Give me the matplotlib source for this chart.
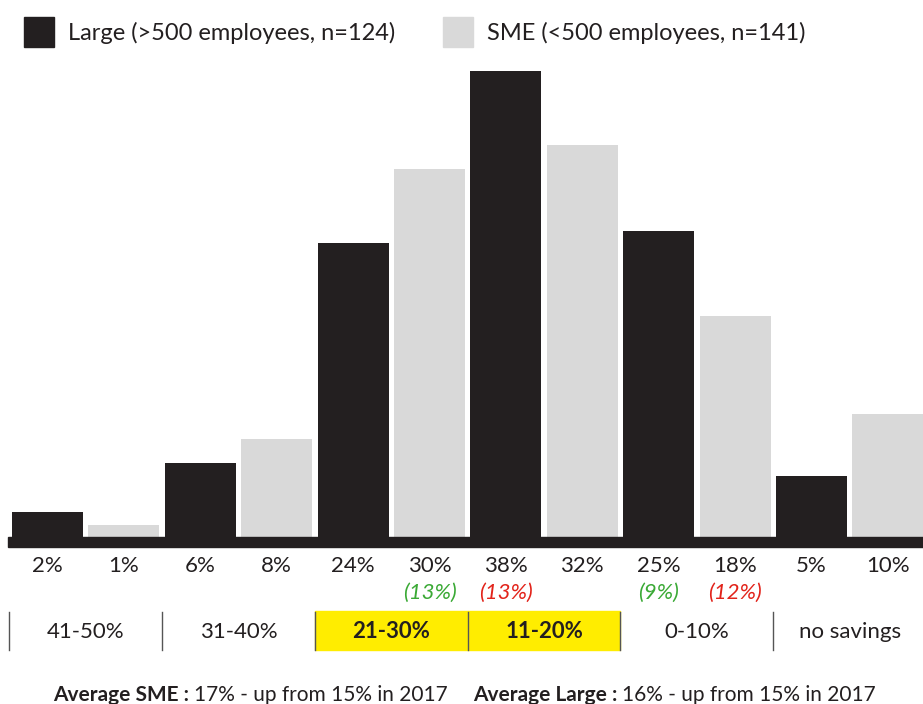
import matplotlib.pyplot as plt
from matplotlib.patches import Rectangle
from matplotlib.transforms import blended_transform_factory

# datos
bar_labels = ["2%", "1%", "6%", "8%", "24%", "30%", "38%", "32%", "25%", "18%", "5%", "10%"]
values = [2, 1, 6, 8, 24, 30, 38, 32, 25, 18, 5, 10]
series = ["large", "sme"] * 6
prev_labels = ["", "", "", "", "", "(13%)", "(13%)", "", "(9%)", "(12%)", "", ""]
prev_colors = ["", "", "", "", "", "green", "red", "", "green", "red", "", ""]
groups = ["41-50%", "31-40%", "21-30%", "11-20%", "0-10%", "no savings"]
highlight = [False, False, True, True, False, False]
legend_labels = ["Large (>500 employees, n=124)", "SME (<500 employees, n=141)"]

DARK = "#231f20"
LIGHT = "#d9d9d9"
GREEN = "#3aa935"
RED = "#e2231a"
YELLOW = "#ffed00"

W, H = 923, 704
plt.rcParams["font.family"] = ["Lato", "DejaVu Sans"]

fig = plt.figure(figsize=(W / 100, H / 100), dpi=100)


def fx(px):
    return px / W


def fy(py):
    return 1 - py / H


slot = 76.4
c0 = 47.5
ax = fig.add_axes([0, fy(537), 1, fy(60) - fy(537)])
ax.set_xlim(-c0 / slot, (W - c0) / slot)
ax.set_ylim(0, (537 - 60) / 12.26)
ax.axis("off")

colors = {"large": DARK, "sme": LIGHT}
xs = list(range(len(values)))
ax.bar(xs, values, width=0.93, color=[colors[s] for s in series])

# linea base gruesa
fig.patches.append(Rectangle((fx(8), fy(547)), fx(W) - fx(8), fy(537) - fy(547),
                             transform=fig.transFigure, color=DARK))

tr = blended_transform_factory(ax.transData, fig.transFigure)
for x, lab in zip(xs, bar_labels):
    ax.text(x, fy(566), lab, transform=tr, ha="center", va="center",
            fontsize=16, color=DARK)
for x, lab, c in zip(xs, prev_labels, prev_colors):
    if lab:
        ax.text(x, fy(593), lab, transform=tr, ha="center", va="center",
                fontsize=16, style="italic", color=GREEN if c == "green" else RED)

# rangos de ahorro
for i, (g, hl) in enumerate(zip(groups, highlight)):
    left = 2 * i - 0.5
    if hl:
        ax.add_patch(Rectangle((left, fy(650)), 2, fy(611) - fy(650), transform=tr,
                               color=YELLOW, clip_on=False, zorder=0))
    ax.text(left + 1, fy(632), g, transform=tr, ha="center", va="center",
            fontsize=16, color=DARK, fontweight="bold" if hl else "normal")
for b in [-0.5, 1.5, 3.5, 5.5, 7.5, 9.5]:
    ax.plot([b, b], [fy(612), fy(650)], transform=tr, color="#555555",
            lw=1, clip_on=False)

# leyenda
fig.patches.append(Rectangle((fx(24), fy(47)), fx(30), fy(17) - fy(47),
                             transform=fig.transFigure, color=DARK))
fig.text(fx(68), fy(33), legend_labels[0], fontsize=17, va="center", color=DARK)
fig.patches.append(Rectangle((fx(443), fy(47)), fx(30), fy(17) - fy(47),
                             transform=fig.transFigure, color=LIGHT))
fig.text(fx(487), fy(33), legend_labels[1], fontsize=17, va="center", color=DARK)

# promedios
t1 = fig.text(fx(53), fy(701), "Average SME : ", fontsize=15, fontweight="bold",
              va="baseline", color=DARK)
fig.canvas.draw()
fig.text(t1.get_window_extent().x1 / W, fy(701), "17% - up from 15% in 2017",
         fontsize=15, va="baseline", color=DARK)
t2 = fig.text(fx(473), fy(701), "Average Large : ", fontsize=15, fontweight="bold",
              va="baseline", color=DARK)
fig.canvas.draw()
fig.text(t2.get_window_extent().x1 / W, fy(701), "16% - up from 15% in 2017",
         fontsize=15, va="baseline", color=DARK)

fig.savefig("out.png", dpi=100)
